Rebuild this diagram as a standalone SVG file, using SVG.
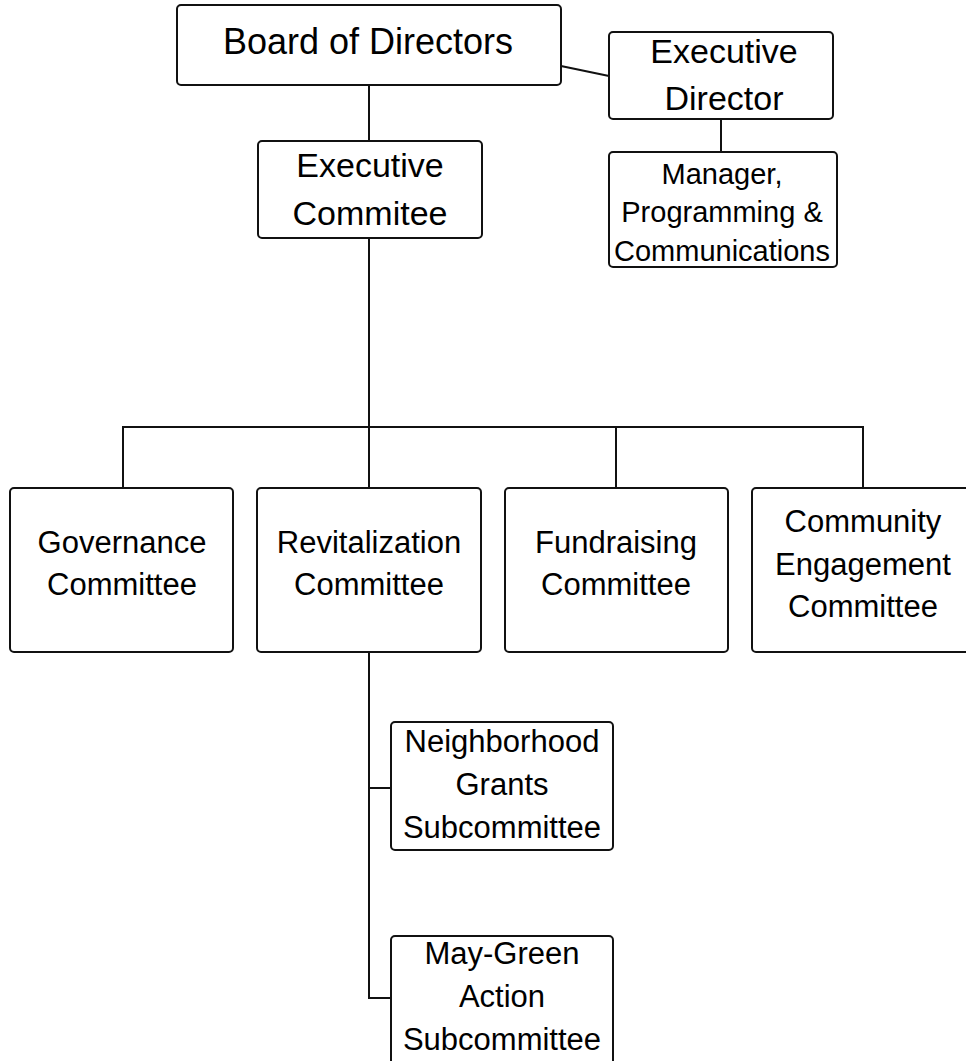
<svg xmlns="http://www.w3.org/2000/svg" width="966" height="1061" viewBox="0 0 966 1061">
<style>
.box{fill:#fff;stroke:#111;stroke-width:2}
.ln{fill:none;stroke:#111;stroke-width:2}
text{font-family:"Liberation Sans",Arial,sans-serif;fill:#000;text-anchor:middle}
.t36{font-size:36px}
.t34{font-size:34px}
.t31{font-size:31px}
.t29{font-size:29px}
</style>
<rect width="966" height="1061" fill="#fff"/>
<g id="connectors">
<line class="ln" x1="369" y1="85" x2="369" y2="141"/>
<line class="ln" x1="561" y1="66" x2="609" y2="76"/>
<line class="ln" x1="721" y1="119" x2="721" y2="152"/>
<line class="ln" x1="369" y1="238" x2="369" y2="488"/>
<polyline class="ln" points="123,488 123,427 863,427 863,488"/>
<line class="ln" x1="616" y1="427" x2="616" y2="488"/>
<polyline class="ln" points="369,651 369,998 391,998"/>
<line class="ln" x1="369" y1="788" x2="391" y2="788"/>
</g>
<g id="board">
<rect class="box" x="177" y="5" width="384" height="80" rx="4"/>
<text class="t36" x="368" y="54">Board of Directors</text>
</g>
<g id="exec-director">
<rect class="box" x="609" y="32" width="224" height="87" rx="4"/>
<text class="t34" x="724" y="63">Executive</text>
<text class="t34" x="724" y="110">Director</text>
</g>
<g id="manager">
<rect class="box" x="609" y="152" width="228" height="115" rx="4"/>
<text class="t29" x="722" y="184">Manager,</text>
<text class="t29" x="722" y="222">Programming &amp;</text>
<text class="t29" x="722" y="261">Communications</text>
</g>
<g id="exec-committee">
<rect class="box" x="258" y="141" width="224" height="97" rx="4"/>
<text class="t34" x="370" y="177">Executive</text>
<text class="t34" x="370" y="225">Commitee</text>
</g>
<g id="governance">
<rect class="box" x="10" y="488" width="223" height="164" rx="4"/>
<text class="t31" x="122" y="553">Governance</text>
<text class="t31" x="122" y="595">Committee</text>
</g>
<g id="revitalization">
<rect class="box" x="257" y="488" width="224" height="164" rx="4"/>
<text class="t31" x="369" y="553">Revitalization</text>
<text class="t31" x="369" y="595">Committee</text>
</g>
<g id="fundraising">
<rect class="box" x="505" y="488" width="223" height="164" rx="4"/>
<text class="t31" x="616" y="553">Fundraising</text>
<text class="t31" x="616" y="595">Committee</text>
</g>
<g id="community">
<rect class="box" x="752" y="488" width="224" height="164" rx="4"/>
<text class="t31" x="863" y="532">Community</text>
<text class="t31" x="863" y="575">Engagement</text>
<text class="t31" x="863" y="617">Committee</text>
</g>
<g id="neighborhood">
<rect class="box" x="391" y="722" width="222" height="128" rx="4"/>
<text class="t31" x="502" y="752">Neighborhood</text>
<text class="t31" x="502" y="795">Grants</text>
<text class="t31" x="502" y="838">Subcommittee</text>
</g>
<g id="maygreen">
<rect class="box" x="391" y="936" width="222" height="135" rx="4"/>
<text class="t31" x="502" y="964">May-Green</text>
<text class="t31" x="502" y="1007">Action</text>
<text class="t31" x="502" y="1050">Subcommittee</text>
</g>
</svg>
